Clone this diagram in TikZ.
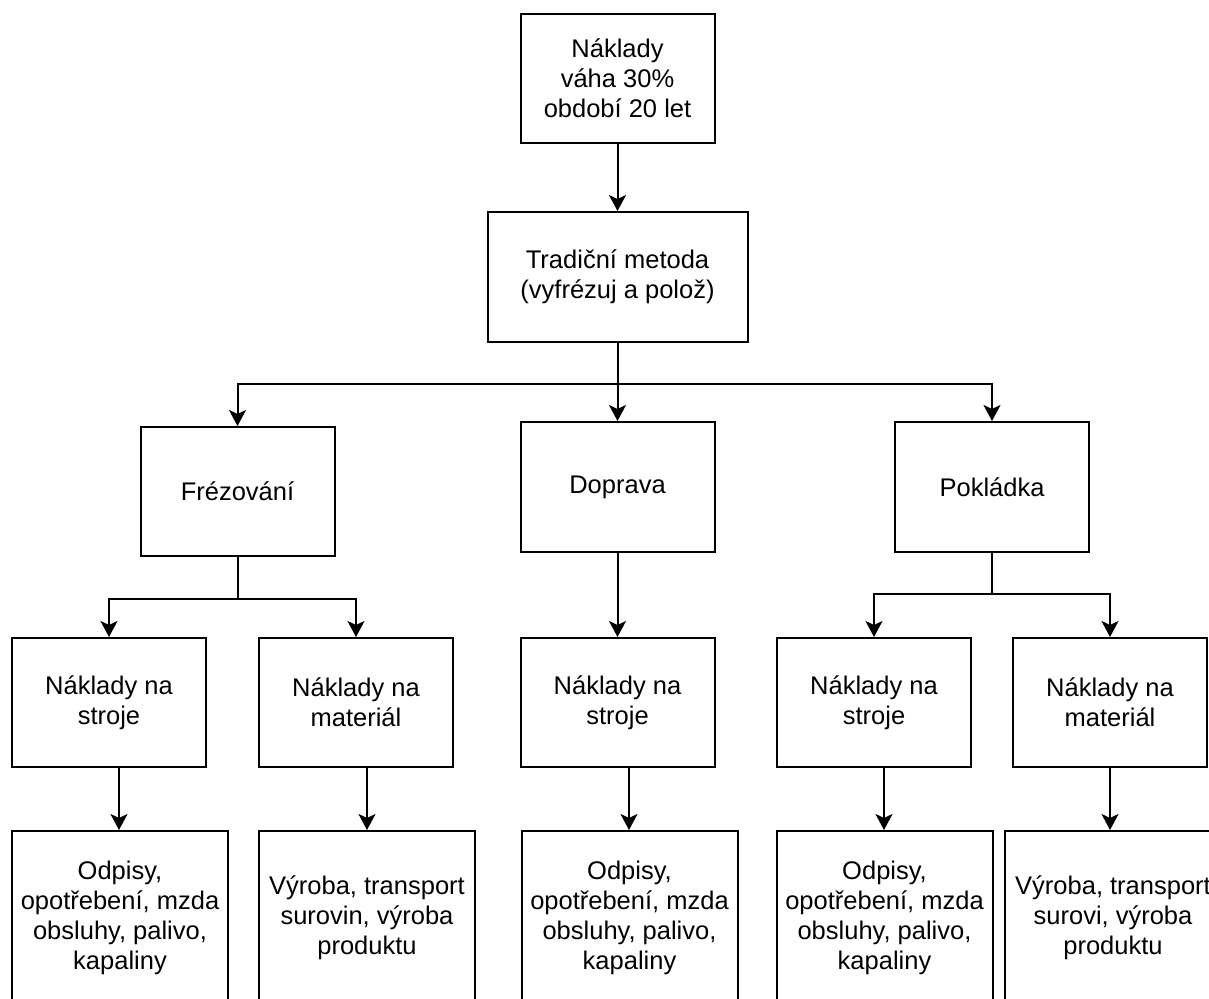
\documentclass[tikz,border=0pt]{standalone}
\usepackage{fontspec}
\setmainfont{Liberation Sans}
\usetikzlibrary{arrows.meta}
\begin{document}
\begin{tikzpicture}[x=1pt,y=-1pt,
  box/.style={draw=black, line width=2pt, fill=white, rectangle, inner sep=0pt,
    align=center, font=\fontsize{25.5}{30}\selectfont},
  lvlbox/.style={box, minimum width=194pt, minimum height=129pt},
  leafbox/.style={box, minimum width=216pt, minimum height=174pt},
  link/.style={draw=black, line width=2pt},
  arr/.style={link, -{Stealth[length=16pt, width=17pt, inset=4pt]}}
]
\useasboundingbox[fill=white] (0,0) rectangle (1209,998);

% root and method
\node[lvlbox] (root) at (617.5,78.5) {Náklady\\váha 30\%\\období 20 let};
\node[box, minimum width=260pt, minimum height=130pt] (method) at (617.5,277)
  {Tradiční metoda\\(vyfrézuj a polož)};

% work phases
\node[lvlbox] (frez) at (237.5,491.5) {Frézování};
\node[lvlbox, minimum height=130pt] (dop) at (617.5,487) {Doprava};
\node[lvlbox, minimum height=130pt] (pokl) at (992,487) {Pokládka};

% cost groups
\node[lvlbox] (fs) at (109,702.5) {Náklady na\\stroje};
\node[lvlbox] (fm) at (356,702.5) {Náklady na\\materiál};
\node[lvlbox] (ds) at (617.5,702.5) {Náklady na\\stroje};
\node[lvlbox] (ps) at (874,702.5) {Náklady na\\stroje};
\node[lvlbox] (pm) at (1110,702.5) {Náklady na\\materiál};

% cost items
\node[leafbox] (fsi) at (120,918) {Odpisy,\\opotřebení, mzda\\obsluhy, palivo,\\kapaliny};
\node[leafbox] (fmi) at (367,918) {Výroba, transport\\surovin, výroba\\produktu};
\node[leafbox] (dsi) at (629.5,918) {Odpisy,\\opotřebení, mzda\\obsluhy, palivo,\\kapaliny};
\node[leafbox] (psi) at (884.5,918) {Odpisy,\\opotřebení, mzda\\obsluhy, palivo,\\kapaliny};
\node[leafbox] (pmi) at (1113,918) {Výroba, transport\\surovi, výroba\\produktu};

% connectors
\draw[arr] (root) -- (method);

\coordinate (mj) at (617.5,384);
\draw[link] (method.south) -- (mj);
\draw[arr] (mj) -| (frez.north);
\draw[arr] (mj) -- (dop.north);
\draw[arr] (mj) -| (pokl.north);

\coordinate (fj) at (237.5,599);
\draw[link] (frez.south) -- (fj);
\draw[arr] (fj) -| (fs.north);
\draw[arr] (fj) -| (fm.north);

\draw[arr] (dop.south) -- (ds.north);

\coordinate (pj) at (992,594);
\draw[link] (pokl.south) -- (pj);
\draw[arr] (pj) -| (ps.north);
\draw[arr] (pj) -| (pm.north);

\draw[arr] (fs.south -| 119,0) -- (fsi.north -| 119,0);
\draw[arr] (fm.south -| 367,0) -- (fmi.north);
\draw[arr] (ds.south -| 629,0) -- (dsi.north -| 629,0);
\draw[arr] (ps.south -| 884,0) -- (psi.north -| 884,0);
\draw[arr] (pm.south) -- (pmi.north -| pm.south);
\end{tikzpicture}
\end{document}
